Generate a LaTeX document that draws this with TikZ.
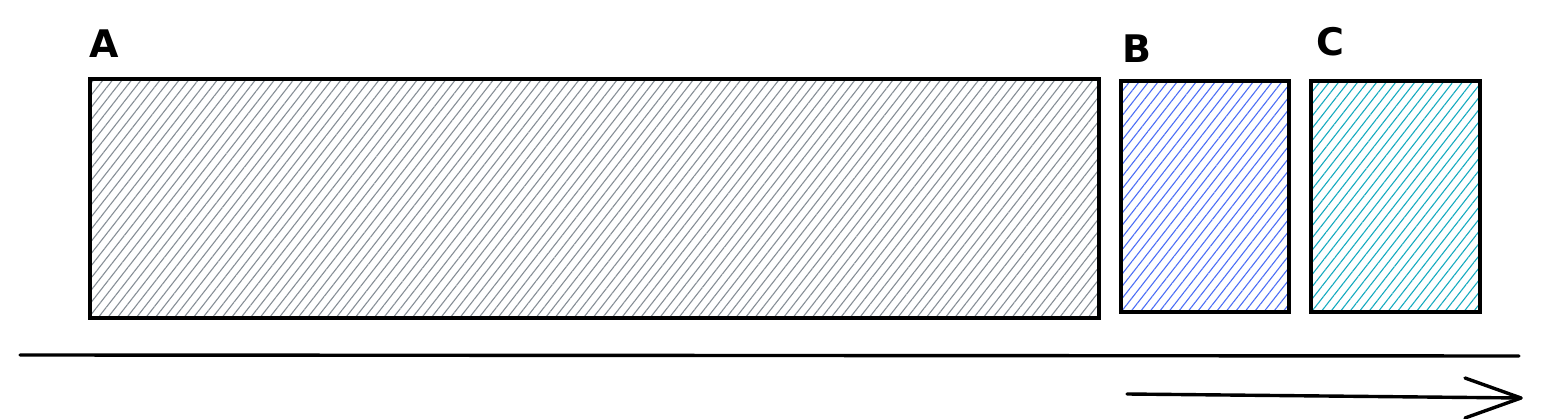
\documentclass[tikz,border=0pt]{standalone}
\usepackage{fontspec}
\setmainfont{DejaVu Sans}
\usetikzlibrary{patterns.meta}
\definecolor{hgray}{HTML}{868E96}
\definecolor{hblue}{HTML}{4C6EF5}
\definecolor{hcyan}{HTML}{15AABF}
\tikzset{
  hbox/.style={draw=black, line width=3.4pt, inner sep=0pt, outer sep=0pt, anchor=north west,
    pattern={Lines[angle=52, distance=7.5pt, line width=1.1pt]}},
  lbl/.style={font=\fontsize{38}{42}\selectfont\bfseries, inner sep=0pt},
  stroke/.style={line width=3.4pt, line cap=round, line join=round}
}
\begin{document}
\begin{tikzpicture}[x=1pt, y=-1pt]
\useasboundingbox (0,0) rectangle (1541,419);
\node[hbox, pattern color=hgray, minimum width=1009pt, minimum height=239pt] (A) at (90,79) {};
\node[hbox, pattern color=hblue, minimum width=168pt, minimum height=231pt] (B) at (1121,81) {};
\node[hbox, pattern color=hcyan, minimum width=169pt, minimum height=231pt] (C) at (1311,81) {};
\node[lbl] (la) at (104,44) {A};
\node[lbl] (lb) at (1137,49) {B};
\node[lbl] (lc) at (1330,42) {C};
\coordinate (l1) at (20,355);
\coordinate (l2) at (1519,356);
\draw[stroke] (l1) -- (l2);
\coordinate (a1) at (1127,394);
\coordinate (a2) at (1521,398);
\coordinate (h1) at (1465,378);
\coordinate (h2) at (1465,418);
\draw[stroke] (a1) -- (a2);
\draw[stroke] (h1) -- (a2) -- (h2);
\end{tikzpicture}
\end{document}
